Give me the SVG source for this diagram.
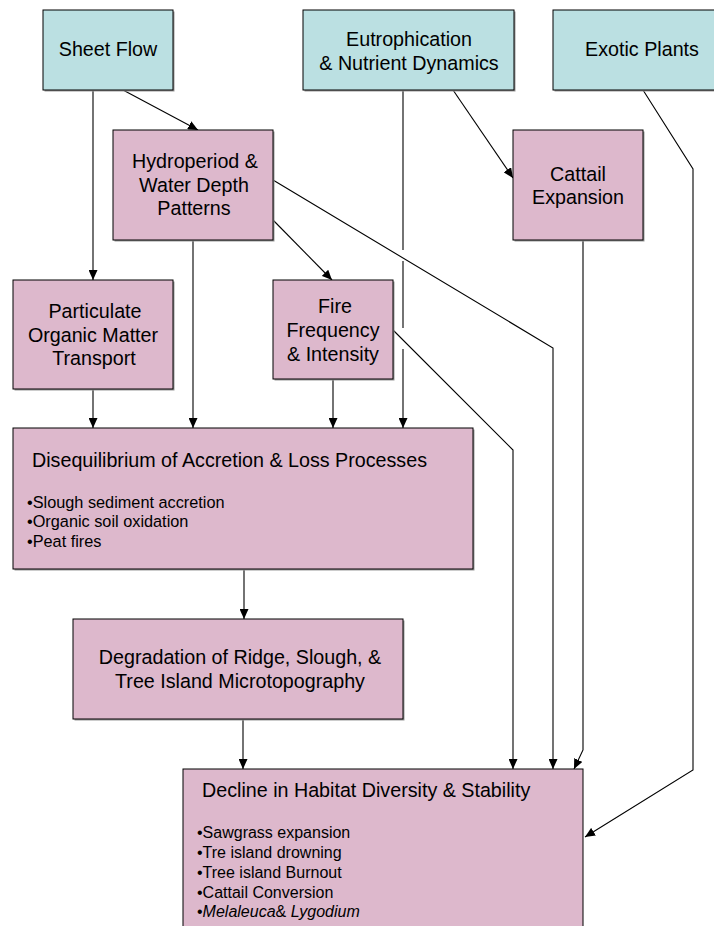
<svg xmlns="http://www.w3.org/2000/svg" width="714" height="926" viewBox="0 0 714 926">
<defs>
<style>
.cy{fill:#BBE0E2;stroke:#000;stroke-width:1}
.pk{fill:#DDB8CC;stroke:#000;stroke-width:1}
.sh{fill:#9a9a9a}
text{font-family:"Liberation Sans",Arial,sans-serif;fill:#000}
.t{font-size:19.7px;text-anchor:middle}
.tl{font-size:19.7px}
.b{font-size:16.3px}
.c{fill:none;stroke:#000;stroke-width:1.1}
</style>
<marker id="ah" markerUnits="userSpaceOnUse" markerWidth="11" markerHeight="9" refX="10" refY="4.5" orient="auto">
<path d="M0,0 L10,4.5 L0,9 z" fill="#000"/>
</marker>
</defs>
<rect width="714" height="926" fill="#fff"/>

<g id="connectors">
<path class="c" d="M93,90 L93,280" marker-end="url(#ah)"/>
<path class="c" d="M123,90 L198,130" marker-end="url(#ah)"/>
<path class="c" d="M193,240 L193,428" marker-end="url(#ah)"/>
<path class="c" d="M273,220 L332,280" marker-end="url(#ah)"/>
<path class="c" d="M273,180 L553,348 L553,769" marker-end="url(#ah)"/>
<path class="c" d="M93,389 L93,428" marker-end="url(#ah)"/>
<path class="c" d="M333,379 L333,428" marker-end="url(#ah)"/>
<path class="c" d="M393,330 L513,450 L513,769" marker-end="url(#ah)"/>
<path class="c" d="M403,90 L403,250"/>
<path class="c" d="M403,261 L403,328"/>
<path class="c" d="M403,349 L403,428" marker-end="url(#ah)"/>
<path class="c" d="M453,90 L513,178" marker-end="url(#ah)"/>
<path class="c" d="M583,240 L583,750 L574,769" marker-end="url(#ah)"/>
<path class="c" d="M643,90 L693,169 L693,770 L585,837" marker-end="url(#ah)"/>
<path class="c" d="M244,569 L244,619" marker-end="url(#ah)"/>
<path class="c" d="M243,719 L243,769" marker-end="url(#ah)"/>
</g>

<g id="sheet-flow">
<rect class="sh" x="44.5" y="11.5" width="130" height="80"/>
<rect class="cy" x="43" y="10" width="130" height="80"/>
<text class="t" x="108" y="56">Sheet Flow</text>
</g>

<g id="eutrophication">
<rect class="sh" x="304.5" y="11.5" width="211" height="80"/>
<rect class="cy" x="303" y="10" width="211" height="80"/>
<text class="t" x="409" y="46">Eutrophication</text>
<text class="t" x="409" y="70">&amp; Nutrient Dynamics</text>
</g>

<g id="exotic-plants">
<rect class="sh" x="554.5" y="11.5" width="180" height="80"/>
<rect class="cy" x="553" y="10" width="180" height="80"/>
<text class="t" x="642" y="56">Exotic Plants</text>
</g>

<g id="hydroperiod">
<rect class="sh" x="114.5" y="131.5" width="160" height="110"/>
<rect class="pk" x="113" y="130" width="160" height="110"/>
<text class="t" x="195" y="168">Hydroperiod &amp;</text>
<text class="t" x="194" y="192">Water Depth</text>
<text class="t" x="194" y="215">Patterns</text>
</g>

<g id="cattail">
<rect class="sh" x="514.5" y="131.5" width="130" height="110"/>
<rect class="pk" x="513" y="130" width="130" height="110"/>
<text class="t" x="578" y="181">Cattail</text>
<text class="t" x="578" y="204">Expansion</text>
</g>

<g id="particulate">
<rect class="sh" x="14.5" y="281.5" width="160" height="109"/>
<rect class="pk" x="13" y="280" width="160" height="109"/>
<text class="t" x="95" y="318">Particulate</text>
<text class="t" x="93" y="342">Organic Matter</text>
<text class="t" x="94" y="365">Transport</text>
</g>

<g id="fire">
<rect class="sh" x="274.5" y="281.5" width="120" height="99"/>
<rect class="pk" x="273" y="280" width="120" height="99"/>
<text class="t" x="335" y="313">Fire</text>
<text class="t" x="333" y="337">Frequency</text>
<text class="t" x="333" y="361">&amp; Intensity</text>
</g>

<g id="disequilibrium">
<rect class="sh" x="14.5" y="429.5" width="460" height="141"/>
<rect class="pk" x="13" y="428" width="460" height="141"/>
<text class="tl" x="32" y="467">Disequilibrium of Accretion &amp; Loss Processes</text>
<text class="b" x="27" y="508">•Slough sediment accretion</text>
<text class="b" x="27" y="527">•Organic soil oxidation</text>
<text class="b" x="27" y="547">•Peat fires</text>
</g>

<g id="degradation">
<rect class="sh" x="74.5" y="620.5" width="330" height="100"/>
<rect class="pk" x="73" y="619" width="330" height="100"/>
<text class="t" x="240" y="664">Degradation of Ridge, Slough, &amp;</text>
<text class="t" x="240" y="688">Tree Island Microtopography</text>
</g>

<g id="decline">
<rect class="pk" x="183" y="769" width="400" height="170"/>
<text class="tl" x="202" y="797">Decline in Habitat Diversity &amp; Stability</text>
<text class="b" x="197" y="838" style="font-size:16px">•Sawgrass expansion</text>
<text class="b" x="197" y="858" style="font-size:16px">•Tre island drowning</text>
<text class="b" x="197" y="878" style="font-size:16px">•Tree island Burnout</text>
<text class="b" x="197" y="898" style="font-size:16px">•Cattail Conversion</text>
<text class="b" x="197" y="917" style="font-size:16px">•<tspan font-style="italic">Melaleuca</tspan>&amp; <tspan font-style="italic">Lygodium</tspan></text>
</g>
</svg>
